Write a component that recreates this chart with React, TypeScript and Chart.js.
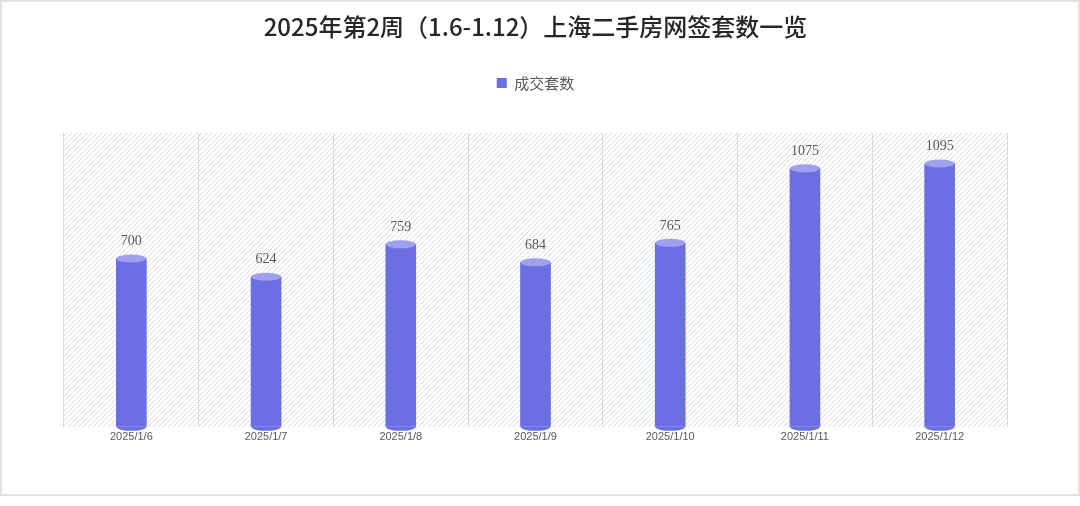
import { useEffect, useRef } from "react"
import { Chart, registerables, type Plugin } from "chart.js"

Chart.register(...registerables)

// chart data
const dates = ["2025/1/6", "2025/1/7", "2025/1/8", "2025/1/9", "2025/1/10", "2025/1/11", "2025/1/12"]
const deals = [700, 624, 759, 684, 765, 1075, 1095]
const seriesName = "成交套数"
const titleText = "2025年第2周（1.6-1.12）上海二手房网签套数一览"

const bodyColor = "#6b6fe3"
const capColor = "#9fa1ee"

// light diagonal hatching behind the plot area
const hatchPlugin: Plugin<"bar"> = {
  id: "hatch",
  beforeDraw(chart) {
    const { ctx, chartArea } = chart
    const tile = document.createElement("canvas")
    const s = 5
    tile.width = s
    tile.height = s
    const t = tile.getContext("2d")
    if (!t) return
    t.fillStyle = "#ffffff"
    t.fillRect(0, 0, s, s)
    t.strokeStyle = "#d9d9d9"
    t.lineWidth = 1
    t.beginPath()
    t.moveTo(0, s)
    t.lineTo(s, 0)
    t.moveTo(-1, 1)
    t.lineTo(1, -1)
    t.moveTo(s - 1, s + 1)
    t.lineTo(s + 1, s - 1)
    t.stroke()
    const pattern = ctx.createPattern(tile, "repeat")
    if (!pattern) return
    ctx.save()
    ctx.fillStyle = pattern
    ctx.fillRect(chartArea.left, chartArea.top, chartArea.right - chartArea.left, chartArea.bottom - chartArea.top)
    ctx.restore()
  },
}

// turn the flat bars into cylinders and put the value on top
const cylinderPlugin: Plugin<"bar"> = {
  id: "cylinder",
  afterDatasetsDraw(chart) {
    const ctx = chart.ctx
    const meta = chart.getDatasetMeta(0)
    meta.data.forEach((bar, i) => {
      const { x, y, base, width } = bar.getProps(["x", "y", "base", "width"], true) as {
        x: number
        y: number
        base: number
        width: number
      }
      const rx = width / 2
      const ry = 4
      ctx.save()
      ctx.fillStyle = bodyColor
      ctx.beginPath()
      ctx.ellipse(x, base, rx, ry, 0, 0, Math.PI)
      ctx.fill()
      ctx.fillStyle = capColor
      ctx.beginPath()
      ctx.ellipse(x, y, rx, ry, 0, 0, Math.PI * 2)
      ctx.fill()
      ctx.fillStyle = "#595959"
      ctx.font = '14px "Liberation Serif", serif'
      ctx.textAlign = "center"
      ctx.textBaseline = "middle"
      ctx.fillText(String(deals[i]), x, y - 17)
      ctx.restore()
    })
  },
}

export default function App() {
  const chartRef = useRef<HTMLCanvasElement>(null)
  const chartInstance = useRef<Chart | null>(null)

  useEffect(() => {
    document.body.style.margin = "0"
    if (!chartRef.current) return
    const ctx = chartRef.current.getContext("2d")
    if (!ctx) return

    if (chartInstance.current) {
      chartInstance.current.destroy()
    }

    chartInstance.current = new Chart(ctx, {
      type: "bar",
      data: {
        labels: dates,
        datasets: [
          {
            label: seriesName,
            data: deals,
            backgroundColor: bodyColor,
            borderWidth: 0,
            barThickness: 30,
          },
        ],
      },
      options: {
        animation: false,
        responsive: false,
        layout: {
          padding: { top: 0, bottom: 58, left: 64, right: 73 },
        },
        scales: {
          x: {
            grid: { color: "#d9d9d9", lineWidth: 1, drawTicks: false, offset: true },
            border: { display: false },
            ticks: {
              padding: 4,
              color: "#595959",
              font: { family: '"Liberation Sans", Arial, sans-serif', size: 11 },
            },
          },
          y: {
            display: false,
            min: 0,
            max: 1222,
          },
        },
        plugins: {
          title: {
            display: true,
            text: titleText,
            color: "#262626",
            padding: { top: 15, bottom: 26.5 },
            font: { family: '"Noto Sans CJK SC", sans-serif', size: 24, weight: 500, lineHeight: 1 },
          },
          subtitle: {
            // empty spacer between legend and plot area
            display: true,
            text: "",
            weight: 500,
            padding: 0,
            font: { size: 32.5, lineHeight: 1 },
          },
          legend: {
            display: true,
            position: "top",
            labels: {
              boxWidth: 10,
              boxHeight: 10,
              padding: 10,
              color: "#595959",
              font: { family: '"Noto Sans CJK SC", sans-serif', size: 15 },
            },
          },
          tooltip: { enabled: false },
        },
      },
      plugins: [hatchPlugin, cylinderPlugin],
    } as any)

    return () => {
      if (chartInstance.current) {
        chartInstance.current.destroy()
        chartInstance.current = null
      }
    }
  }, [])

  return (
    <div style={{ position: "relative", width: 1080, height: 506, background: "#fff" }}>
      <div
        style={{
          position: "absolute",
          left: 0,
          top: 0,
          width: 1080,
          height: 496,
          border: "2px solid #e2e2e2",
          boxSizing: "border-box",
        }}
      />
      <canvas ref={chartRef} width={1080} height={506} style={{ position: "absolute", left: 0, top: 0 }}></canvas>
    </div>
  )
}
